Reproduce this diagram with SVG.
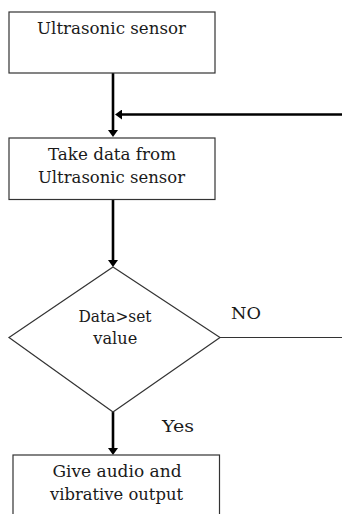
<svg xmlns="http://www.w3.org/2000/svg" width="342" height="514" viewBox="0 0 342 514">
  <defs>
    <style>
      .box { fill: #ffffff; stroke: #333333; stroke-width: 1.2; }
      .label { font-family: "DejaVu Serif", "Liberation Serif", serif; font-size: 17px; fill: #1a1a1a; text-anchor: middle; }
      .flow { stroke: #000000; stroke-width: 2.6; fill: none; }
      .thin { stroke: #333333; stroke-width: 1.2; fill: none; }
    </style>
    <marker id="head" markerUnits="userSpaceOnUse" markerWidth="10" markerHeight="10" refX="3" refY="5" orient="auto">
      <path d="M0,0 L7,5 L0,10 Z" fill="#000000"/>
    </marker>
  </defs>
  <rect width="342" height="514" fill="#ffffff"/>

  <!-- connectors and branch labels -->
  <g id="connectors">
    <line class="flow" x1="113" y1="73" x2="113" y2="133" marker-end="url(#head)"/>
    <line class="flow" x1="342" y1="114.5" x2="119" y2="114.5" marker-end="url(#head)"/>
    <line class="flow" x1="113" y1="200" x2="113" y2="263" marker-end="url(#head)"/>
    <line class="flow" x1="113" y1="412" x2="113" y2="451" marker-end="url(#head)"/>
    <line class="thin" x1="220" y1="337.5" x2="342" y2="337.5"/>
    <text class="label" x="246" y="319" textLength="30" lengthAdjust="spacingAndGlyphs">NO</text>
    <text class="label" x="178" y="432" textLength="32" lengthAdjust="spacingAndGlyphs">Yes</text>
  </g>

  <g id="sensor">
    <rect class="box" x="9" y="12" width="206" height="61"/>
    <text class="label" x="111.5" y="34" textLength="149" lengthAdjust="spacingAndGlyphs">Ultrasonic sensor</text>
  </g>

  <g id="take-data">
    <rect class="box" x="9" y="138" width="206" height="61.5"/>
    <text class="label" x="112" y="160" textLength="128" lengthAdjust="spacingAndGlyphs">Take data from</text>
    <text class="label" x="111.5" y="182.5" textLength="147" lengthAdjust="spacingAndGlyphs">Ultrasonic sensor</text>
  </g>

  <g id="decision">
    <polygon class="box" points="113,267 220,337.5 113,412 9,337.5"/>
    <text class="label" x="115" y="321.5" textLength="73" lengthAdjust="spacingAndGlyphs">Data&gt;set</text>
    <text class="label" x="115.3" y="343.5" textLength="44" lengthAdjust="spacingAndGlyphs">value</text>
  </g>

  <g id="output">
    <rect class="box" x="13" y="455" width="206.5" height="80"/>
    <text class="label" x="117" y="476.5" textLength="129" lengthAdjust="spacingAndGlyphs">Give audio and</text>
    <text class="label" x="116.5" y="500" textLength="133" lengthAdjust="spacingAndGlyphs">vibrative output</text>
  </g>
</svg>
